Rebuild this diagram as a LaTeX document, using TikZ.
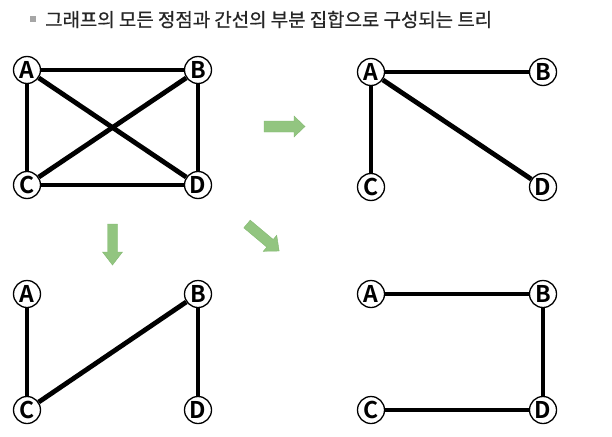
\documentclass[tikz,border=0pt]{standalone}
\usepackage{fontspec}
\newfontfamily\krfont[FakeBold=0.7]{Noto Sans CJK KR}
\newfontfamily\lblfont{Noto Sans CJK KR Bold}
\definecolor{arrowgreen}{HTML}{92C580}
\definecolor{arrowedge}{HTML}{82B870}
\begin{document}
\begin{tikzpicture}[x=1pt,y=-1pt,
  vtx/.style={circle,draw=black,line width=1.3pt,fill=white,minimum size=27pt,inner sep=0pt,font=\lblfont\fontsize{23}{23}\selectfont},
  edge/.style={line width=4.8pt},
  garrow/.style={fill=arrowgreen,draw=arrowedge,line width=0.4pt}]
\useasboundingbox (0,0) rectangle (612,436);
% title
\fill[gray!70] (30,16) rectangle (36,22);
\node[anchor=west,inner sep=0pt,font=\krfont\fontsize{18.9}{18.9}\selectfont,text=black!85] (title) at (45,19.5) {그래프의 모든 정점과 간선의 부분 집합으로 구성되는 트리};
% graph 1
\node[vtx] (A1) at (27,70) {A};
\node[vtx] (B1) at (198,70) {B};
\node[vtx] (C1) at (27,185) {C};
\node[vtx] (D1) at (198,185) {D};
% graph 2
\node[vtx] (A2) at (371,72) {A};
\node[vtx] (B2) at (543,72) {B};
\node[vtx] (C2) at (371,187) {C};
\node[vtx] (D2) at (543,187) {D};
% graph 3
\node[vtx] (A3) at (27,294) {A};
\node[vtx] (B3) at (198,294) {B};
\node[vtx] (C3) at (27,410) {C};
\node[vtx] (D3) at (198,410) {D};
% graph 4
\node[vtx] (A4) at (371,294) {A};
\node[vtx] (B4) at (543,294) {B};
\node[vtx] (C4) at (371,410) {C};
\node[vtx] (D4) at (543,410) {D};
% edges
\draw[edge] (A1) -- (B1);
\draw[edge] (A1) -- (C1);
\draw[edge] (A1) -- (D1);
\draw[edge] (B1) -- (C1);
\draw[edge] (B1) -- (D1);
\draw[edge] (C1) -- (D1);
\draw[edge] (A2) -- (B2);
\draw[edge] (A2) -- (C2);
\draw[edge] (A2) -- (D2);
\draw[edge] (A3) -- (C3);
\draw[edge] (C3) -- (B3);
\draw[edge] (B3) -- (D3);
\draw[edge] (A4) -- (B4);
\draw[edge] (B4) -- (D4);
\draw[edge] (D4) -- (C4);
% arrows
\draw[garrow] (264,121) -- (294,121) -- (294,116) -- (305,126.5) -- (294,137) -- (294,132) -- (264,132) -- cycle;
\draw[garrow] (107.5,224) -- (117.5,224) -- (117.5,252) -- (122.5,252) -- (112.5,265) -- (102.5,252) -- (107.5,252) -- cycle;
\begin{scope}[shift={(247,224)},rotate=-40]
\draw[garrow] (0,-5) -- (30,-5) -- (30,-10.5) -- (42,0) -- (30,10.5) -- (30,5) -- (0,5) -- cycle;
\end{scope}
\end{tikzpicture}
\end{document}
